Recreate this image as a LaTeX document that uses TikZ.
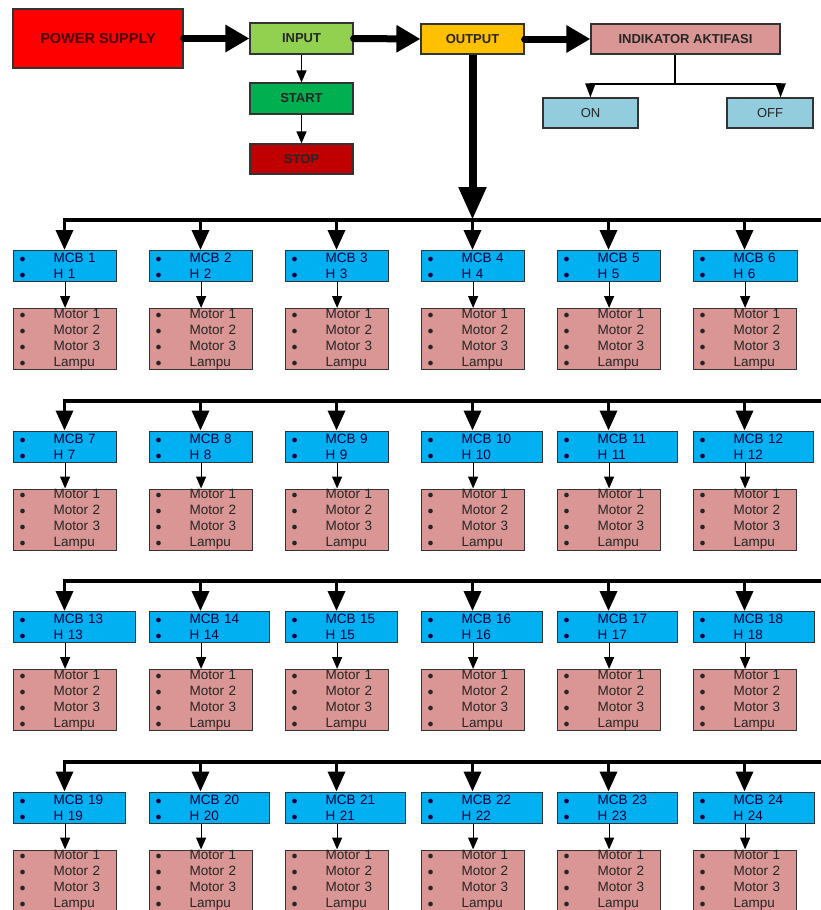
\documentclass[tikz,border=0pt]{standalone}
\usepackage{fontspec}
\setmainfont{Liberation Sans}
\usetikzlibrary{arrows.meta}

\definecolor{psred}{HTML}{FF0000}
\definecolor{ingreen}{HTML}{92D050}
\definecolor{stgreen}{HTML}{00B050}
\definecolor{spred}{HTML}{C00000}
\definecolor{outorange}{HTML}{FFC000}
\definecolor{indpink}{HTML}{D99694}
\definecolor{onblue}{HTML}{93CDDD}
\definecolor{mcbblue}{HTML}{00B0F0}
\definecolor{motpink}{HTML}{DA9694}

\newcommand{\itm}[1]{\makebox[40pt][l]{\hspace{6pt}{\fontsize{12}{12}\selectfont$\bullet$}}#1}

\begin{document}
\begin{tikzpicture}[x=1pt, y=-1pt,
    box/.style={draw=black!80, line width=1.2pt, inner sep=0pt, text=black!85,
        font=\fontsize{13}{15}\selectfont\bfseries, align=center},
    smallbox/.style={box, font=\fontsize{13}{15}\selectfont},
    mcb/.style={draw=black!80, line width=1.2pt, fill=mcbblue, anchor=north west,
        inner sep=0pt, minimum height=31pt, align=left, text=black!75!blue,
        font=\fontsize{13.5}{16}\selectfont},
    motor/.style={mcb, fill=motpink, minimum height=61pt, text width=103pt, text=black!85},
    fatarrow/.style={line width=7pt, line cap=round, -{Triangle[length=24pt,width=26pt]}},
    downarrow/.style={line width=8pt, -{Triangle[length=33pt,width=26pt]}},
    busline/.style={line width=4pt, line cap=rect},
    busarrow/.style={line width=3.5pt, -{Triangle[length=20pt,width=17pt]}},
    thinarrow/.style={line width=1.5pt, -{Triangle[length=12pt,width=10pt]}},
    motorarrow/.style={line width=1.2pt, -{Triangle[length=12pt,width=10pt]}}
    ]
    \useasboundingbox[fill=white] (0,0) rectangle (821,910);

    \node[box, fill=psred, minimum width=170pt, minimum height=59pt, text=black!70!red,
        font=\fontsize{14.5}{16}\selectfont\bfseries] (ps) at (98,38.5) {POWER SUPPLY};
    \node[box, fill=ingreen, minimum width=103pt, minimum height=31pt] (in) at (301.5,38.5) {INPUT};
    \node[box, fill=stgreen, minimum width=103pt, minimum height=31pt] (st) at (301.5,98.5) {START};
    \node[box, fill=spred, minimum width=103pt, minimum height=30pt] (sp) at (301.5,159) {STOP};
    \node[box, fill=outorange, minimum width=103pt, minimum height=30pt] (out) at (472.5,39) {OUTPUT};
    \node[box, fill=indpink, minimum width=189pt, minimum height=30pt] (ind) at (685.5,39) {INDIKATOR AKTIFASI};
    \node[smallbox, fill=onblue, minimum width=95pt, minimum height=30pt] (on) at (590.5,113) {ON};
    \node[smallbox, fill=onblue, minimum width=86pt, minimum height=30pt] (off) at (770,113) {OFF};
    \coordinate (split) at (675,84);

    \draw[fatarrow] (ps.east) -- (in.west);
    \draw[fatarrow] (in.east) -- (out.west);
    \draw[fatarrow] (out.east) -- (ind.west);
    \draw[thinarrow] (in) -- (st);
    \draw[thinarrow] (st) -- (sp);
    \draw[line width=2pt] (ind.south -| split) -- (split);
    \draw[line width=2pt, -{Triangle[length=14pt,width=10pt]}] (split) -| (ind.west |- on.north);
    \draw[line width=2pt, -{Triangle[length=14pt,width=10pt]}] (split) -| (ind.east |- off.north);

    \foreach \n/\w [count=\i from 0] in {1/103,2/103,3/103,4/103,5/103,6/104,
        7/103,8/103,9/103,10/121,11/120,12/120,
        13/122,14/120,15/112,16/121,17/120,18/121,
        19/112,20/120,21/120,22/121,23/120,24/121}{
        \pgfmathtruncatemacro{\row}{\i/6}
        \pgfmathtruncatemacro{\col}{mod(\i,6)}
        \pgfmathsetmacro{\xl}{13+136*\col}
        \pgfmathsetmacro{\by}{220+180.5*\row}
        \coordinate (b\n) at (\xl+51.5,\by);
        \coordinate (e\n) at (821,\by);
        \node[mcb, text width=\w pt] (m\n) at (\xl,\by+30) {\itm{MCB \n}\\\itm{H \n}};
        \node[motor] (k\n) at (\xl,\by+88) {\itm{Motor 1}\\\itm{Motor 2}\\\itm{Motor 3}\\\itm{Lampu}};
        \draw[busarrow] (b\n) -- (b\n |- m\n.north);
        \draw[motorarrow] (m\n.south -| k\n.north) -- (k\n.north);
    }
    \foreach \a in {1,7,13,19}
        \draw[busline] (b\a) -- (e\a);

    \draw[downarrow] (out.south) -- (b4);
\end{tikzpicture}
\end{document}
